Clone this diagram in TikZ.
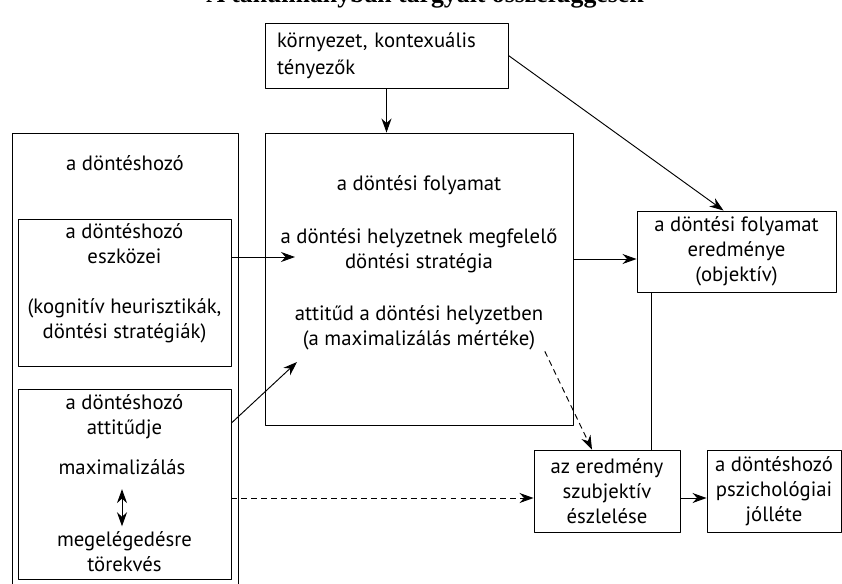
\documentclass[tikz,border=0pt]{standalone}
\usepackage{fontspec}
\setmainfont{PT Sans}
\newfontfamily\titlefont{Liberation Serif}
\usetikzlibrary{arrows.meta}
\begin{document}
\begin{tikzpicture}[x=0.03cm, y=-0.03cm, line join=round, line width=0.8pt,
  >={Stealth[length=4.2mm,width=3mm]},
  font=\fontsize{17.7}{21.3}\selectfont,
  box/.style={draw, rectangle, inner sep=0pt},
  txt/.style={align=center, inner sep=1pt},
  dashline/.style={dashed, dash pattern=on 5pt off 3.5pt}]
  \def\px{0.03cm}
  \useasboundingbox (0,0) rectangle (842,583);
  % cim (fent levagva)
  \node[font=\titlefont\bfseries\fontsize{22}{26}\selectfont, anchor=base] (title) at (425,2) {A tanulmányban tárgyalt összefüggések};
  % kornyezet
  \node[box, minimum width={243*\px}, minimum height={65*\px}, align=left, text width={219*\px}, inner xsep={12*\px}] (env) at (386.5,55.5) {környezet, kontexuális\\[2pt]tényezők};
  % a donteshozo
  \node[box, minimum width={226*\px}, minimum height={470*\px}] (dm) at (125,368) {};
  \node[txt] (dmtxt) at (125,163) {a döntéshozó};
  \node[box, minimum width={213*\px}, minimum height={147*\px}] (tools) at (124.5,292.5) {};
  \node[txt] (toolsA) at (124.5,244) {a döntéshozó\\eszközei};
  \node[txt] (toolsB) at (124.5,321) {(kognitív heurisztikák,\\döntési stratégiák)};
  \node[box, minimum width={213*\px}, minimum height={190*\px}] (att) at (124.5,484) {};
  \node[txt] (attA) at (124.5,416.5) {a döntéshozó\\attitűdje};
  \node[txt] (attMax) at (122,467) {maximalizálás};
  \node[txt] (attSat) at (124.5,551.5) {megelégedésre\\törekvés};
  \draw[<->, shorten <=11pt, shorten >=3pt] (attMax.south) -- (attMax.south |- attSat.north);
  % a dontesi folyamat
  \node[box, minimum width={308*\px}, minimum height={292*\px}] (proc) at (419,279) {};
  \node[txt] (procA) at (419,185) {a döntési folyamat};
  \node[txt] (procB) at (419,250.5) {a döntési helyzetnek megfelelő\\döntési stratégia};
  \node[txt] (procC) at (419,327.5) {attitűd a döntési helyzetben\\(a maximalizálás mértéke)};
  % eredmeny, eszleles, jollet
  \node[box, txt, minimum width={199*\px}, minimum height={81*\px}] (res) at (736.5,251.5) {a döntési folyamat\\eredménye\\(objektív)};
  \node[box, txt, minimum width={146*\px}, minimum height={82*\px}] (subj) at (607,491) {az eredmény\\szubjektív\\észlelése};
  \node[box, txt, minimum width={134*\px}, minimum height={82*\px}] (jol) at (774,491) {a döntéshozó\\pszichológiai\\jólléte};
  % nyilak
  \coordinate (toolsin) at (295,257);
  \coordinate (attin) at (297,362);
  \draw[->] (env.south) -- (env.south |- proc.north);
  \draw[->] (env.east) -- ([xshift=-13*\px]res.north);
  \draw[->] (tools.east |- toolsin) -- (toolsin);
  \draw[->] ([yshift=61*\px]att.east) -- (attin);
  \draw[->, dashline] (att.east |- 0,498) -- ([yshift=-7*\px]subj.west);
  \draw[->, dashline] (procC.south east) -- ([xshift=-15*\px]subj.north);
  \draw[->] (proc.east |- 0,259) -- ([yshift=-7.5*\px]res.west);
  \draw ([xshift=-85.5*\px]res.south) -- ([xshift=-85.5*\px]res.south |- subj.north);
  \draw[->] ([yshift=-7*\px]subj.east) -- ([yshift=-7*\px]jol.west);
\end{tikzpicture}
\end{document}
